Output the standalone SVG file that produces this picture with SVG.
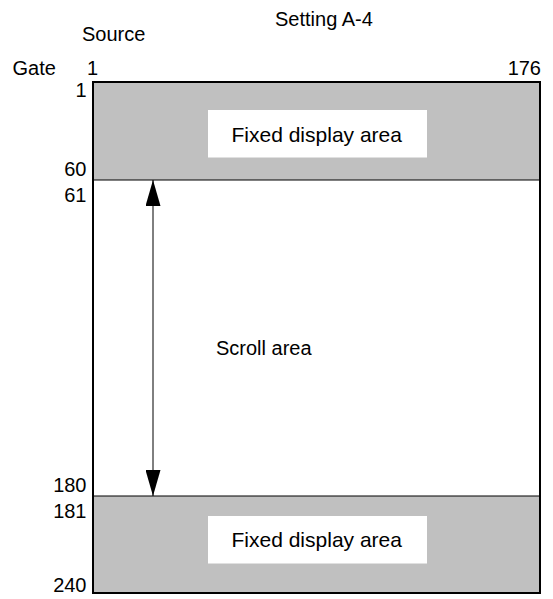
<svg xmlns="http://www.w3.org/2000/svg" width="553" height="599" viewBox="0 0 553 599">
<style>
text{font-family:"Liberation Sans",Arial,sans-serif;font-size:20px;fill:#000}
.r{text-anchor:end}
.fixed{fill:#c0c0c0}
.label{fill:#fff}
.fx{font-size:21px}
</style>
<defs>
<marker id="ah" viewBox="0 0 26 15" refX="26" refY="7.5" markerWidth="26" markerHeight="15" markerUnits="userSpaceOnUse" orient="auto-start-reverse">
<path d="M0,0 L26,7.5 L0,15 z" fill="#000"/>
</marker>
</defs>
<rect width="553" height="599" fill="#fff"/>
<text x="275" y="26" font-size="23">Setting A-4</text>
<text x="82" y="41" font-size="21">Source</text>
<text x="12.5" y="75">Gate</text>
<text x="87" y="75">1</text>
<text x="541" y="75" class="r">176</text>
<g id="labels-left">
<text x="86.5" y="97" class="r">1</text>
<text x="86.5" y="176" class="r">60</text>
<text x="86.5" y="202" class="r">61</text>
<text x="86.5" y="492" class="r">180</text>
<text x="86.5" y="518" class="r">181</text>
<text x="86.5" y="592" class="r">240</text>
</g>
<g id="fixed-top">
<rect x="93" y="82" width="447" height="98" class="fixed"/>
<rect x="208" y="110" width="219" height="47.5" class="label"/>
<text x="231.5" y="142" class="fx">Fixed display area</text>
</g>
<g id="scroll">
<rect x="93" y="180" width="447" height="316" fill="#fff"/>
<text x="216" y="355" font-size="20.5">Scroll area</text>
</g>
<g id="fixed-bottom">
<rect x="93" y="496" width="447" height="97" class="fixed"/>
<rect x="208" y="516" width="219" height="47.5" class="label"/>
<text x="231.5" y="547" class="fx">Fixed display area</text>
</g>
<g id="lines" fill="none" stroke="#000">
<rect x="93" y="82" width="447" height="511" stroke-width="2"/>
<line x1="93" y1="180" x2="540" y2="180" stroke-width="1.2"/>
<line x1="93" y1="496" x2="540" y2="496" stroke-width="1.2"/>
</g>
<g id="connectors">
<line x1="153" y1="180" x2="153" y2="496" stroke="#000" stroke-width="1" marker-start="url(#ah)" marker-end="url(#ah)"/>
</g>
</svg>
